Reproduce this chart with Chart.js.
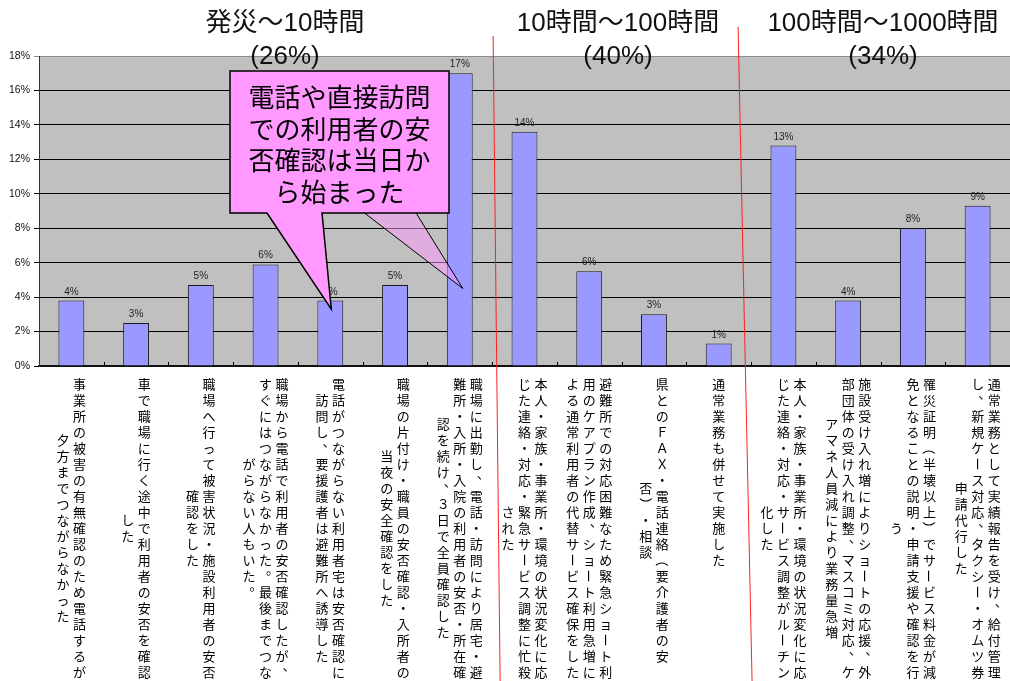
<!DOCTYPE html>
<html>
<head>
<meta charset="utf-8">
<script src="https://cdn.jsdelivr.net/npm/chart.js@4.4.0/dist/chart.umd.min.js"></script>
<style>
  html, body { margin: 0; padding: 0; background: #fff; }
  #wrap { width: 1010px; height: 681px; }
</style>
</head>
<body>
<div id="wrap"><canvas id="chart" width="1010" height="681"></canvas></div>
<script>
// category labels, one string per vertical column (right to left)
const categories = [
    ['事業所の被害の有無確認のため電話するが', '夕方までつながらなかった'],
    ['車で職場に行く途中で利用者の安否を確認', 'した'],
    ['職場へ行って被害状況・施設利用者の安否', '確認をした'],
    ['職場から電話で利用者の安否確認したが、', 'すぐにはつながらなかった。最後までつな', 'がらない人もいた。'],
    ['電話がつながらない利用者宅は安否確認に', '訪問し、要援護者は避難所へ誘導した'],
    ['職場の片付け・職員の安否確認・入所者の', '当夜の安全確認をした'],
    ['職場に出勤し、電話・訪問により居宅・避', '難所・入所・入院の利用者の安否・所在確', '認を続け、３日で全員確認した'],
    ['本人・家族・事業所・環境の状況変化に応', 'じた連絡・対応・緊急サービス調整に忙殺', 'された'],
    ['避難所での対応困難なため緊急ショート利', '用のケアプラン作成、ショート利用急増に', 'よる通常利用者の代替サービス確保をした'],
    ['県とのＦＡＸ・電話連絡（要介護者の安', '否）・相談'],
    ['通常業務も併せて実施した'],
    ['本人・家族・事業所・環境の状況変化に応', 'じた連絡・対応・サービス調整がルーチン', '化した'],
    ['施設受け入れ増によりショートの応援、外', '部団体の受け入れ調整、マスコミ対応、ケ', 'アマネ人員減により業務量急増'],
    ['罹災証明（半壊以上）でサービス料金が減', '免となることの説明・申請支援や確認を行', 'う'],
    ['通常業務として実績報告を受け、給付管理', 'し、新規ケース対応、タクシー・オムツ券', '申請代行した']
];
const shares = [3.8, 2.5, 4.7, 5.9, 3.8, 4.7, 17.0, 13.6, 5.5, 3.0, 1.3, 12.8, 3.8, 8.0, 9.3];
const yMax = 18;
const yStep = 2;

const phaseTitles = ['発災～10時間', '10時間～100時間', '100時間～1000時間'];
const phaseShares = ['(26%)', '(40%)', '(34%)'];
const calloutLines = ['電話や直接訪問', 'での利用者の安', '否確認は当日か', 'ら始まった'];

const CJK = '"Noto Sans CJK JP", sans-serif';
const LAT = '"Liberation Sans", "Noto Sans CJK JP", sans-serif';

function drawColumn(ctx, text, x, yTop, pitch) {
    [...text].forEach(function (ch, k) {
        const y = yTop + pitch * (k + 0.5);
        if ('ー（）'.includes(ch)) {
            ctx.save();
            ctx.translate(x, y);
            ctx.rotate(Math.PI / 2);
            ctx.fillText(ch, 0, 0);
            ctx.restore();
        } else if ('、。'.includes(ch)) {
            ctx.fillText(ch, x + 7, y - 7);
        } else {
            ctx.fillText(ch, x, y);
        }
    });
}

const decor = {
    id: 'decor',
    beforeDraw(chart) {
        const { ctx, chartArea: a } = chart;
        ctx.save();
        ctx.fillStyle = '#c0c0c0';
        ctx.fillRect(a.left, a.top, a.right - a.left, a.bottom - a.top);
        ctx.restore();
    },
    afterDatasetsDraw(chart) {
        const { ctx, chartArea: a } = chart;
        const xs = chart.scales.x;
        const meta = chart.getDatasetMeta(0);
        ctx.save();
        // value labels
        ctx.font = '10px ' + LAT;
        ctx.fillStyle = '#222';
        ctx.textAlign = 'center';
        ctx.textBaseline = 'alphabetic';
        meta.data.forEach(function (bar, i) {
            ctx.fillText(Math.round(shares[i]) + '%', bar.x, bar.y - 6);
        });
        // small inner ticks between categories
        ctx.strokeStyle = '#000';
        ctx.lineWidth = 1;
        for (let i = 1; i < categories.length; i++) {
            const bx = Math.round((xs.getPixelForValue(i - 1) + xs.getPixelForValue(i)) / 2) + 0.5;
            ctx.beginPath();
            ctx.moveTo(bx, a.bottom);
            ctx.lineTo(bx, a.bottom - 4);
            ctx.stroke();
        }
        // vertical category labels: block top-aligned, columns centred in the block
        ctx.font = '13px ' + CJK;
        ctx.fillStyle = '#000';
        ctx.textBaseline = 'middle';
        const pitch = 16, colGap = 16.5, top = a.bottom + 10;
        categories.forEach(function (cols, i) {
            const cx = xs.getPixelForValue(i);
            const n = cols.length;
            const longest = Math.max.apply(null, cols.map(function (c) { return [...c].length; }));
            const midY = top + longest * pitch / 2;
            cols.forEach(function (col, j) {
                const x = cx + ((n - 1) / 2 - j) * colGap;
                const len = [...col].length;
                drawColumn(ctx, col, x, midY - len * pitch / 2, pitch);
            });
        });
        ctx.restore();
    },
    afterDraw(chart) {
        const { ctx } = chart;
        const xs = chart.scales.x, ys = chart.scales.y;
        ctx.save();
        // phase headings
        ctx.fillStyle = '#111';
        ctx.textAlign = 'center';
        ctx.textBaseline = 'middle';
        ctx.font = '26px ' + LAT;
        const hx = [285, 618, 883];
        phaseTitles.forEach(function (t, i) {
            ctx.fillText(t, hx[i], 24);
            ctx.fillText(phaseShares[i], hx[i], 57);
        });

        // callout
        const box = { l: 230, t: 71, r: 449, b: 213 };
        const tip1 = { x: xs.getPixelForValue(4) + 1, y: ys.getPixelForValue(3.3) };
        const tip2 = { x: xs.getPixelForValue(6) + 3, y: ys.getPixelForValue(4.5) };
        ctx.fillStyle = 'rgba(255, 153, 255, 0.5)';
        ctx.strokeStyle = '#000';
        ctx.lineWidth = 1;
        ctx.beginPath();
        ctx.moveTo(358, box.b - 5);
        ctx.lineTo(tip2.x, tip2.y);
        ctx.lineTo(413, box.b - 5);
        ctx.closePath();
        ctx.fill();
        ctx.beginPath();
        ctx.moveTo(358, box.b - 5);
        ctx.lineTo(tip2.x, tip2.y);
        ctx.lineTo(413, box.b - 5);
        ctx.stroke();

        ctx.fillStyle = '#ff99ff';
        ctx.lineWidth = 1.5;
        ctx.beginPath();
        ctx.moveTo(box.l, box.t);
        ctx.lineTo(box.r, box.t);
        ctx.lineTo(box.r, box.b);
        ctx.lineTo(322, box.b);
        ctx.lineTo(tip1.x, tip1.y);
        ctx.lineTo(267, box.b);
        ctx.lineTo(box.l, box.b);
        ctx.closePath();
        ctx.fill();
        ctx.stroke();

        ctx.fillStyle = '#000';
        ctx.font = '26px ' + CJK;
        calloutLines.forEach(function (t, i) {
            ctx.fillText(t, (box.l + box.r) / 2, 97 + i * 31.7);
        });

        // red phase separators
        ctx.strokeStyle = '#ff2020';
        ctx.lineWidth = 1;
        const b1 = (xs.getPixelForValue(6) + xs.getPixelForValue(7)) / 2;
        const b2 = (xs.getPixelForValue(10) + xs.getPixelForValue(11)) / 2;
        ctx.beginPath();
        ctx.moveTo(b1 + 1, 36);
        ctx.lineTo(b1 + 8, 681);
        ctx.moveTo(b2 - 13, 27);
        ctx.lineTo(b2 + 1, 681);
        ctx.stroke();
        ctx.restore();
    }
};

new Chart(document.getElementById('chart').getContext('2d'), {
    type: 'bar',
    data: {
        labels: categories,
        datasets: [{
            data: shares,
            backgroundColor: '#9999ff',
            borderColor: '#1a1a1a',
            borderWidth: 1,
            barPercentage: 0.8,
            categoryPercentage: 0.5
        }]
    },
    options: {
        responsive: false,
        animation: false,
        layout: { padding: { top: 56, right: 0, left: 0, bottom: 0 } },
        plugins: {
            legend: { display: false },
            tooltip: { enabled: false }
        },
        scales: {
            x: {
                grid: { display: false },
                border: { color: '#111', width: 2 },
                ticks: { display: false },
                afterFit(scale) { scale.height = 315; }
            },
            y: {
                min: 0,
                max: yMax,
                ticks: {
                    stepSize: yStep,
                    padding: 4,
                    color: '#111',
                    font: { family: 'Liberation Sans', size: 10.5 },
                    callback: function (v) { return v + '%'; }
                },
                grid: {
                    color: function (c) { return c.tick && c.tick.value === yMax ? '#8c8c8c' : '#000'; },
                    lineWidth: 1,
                    tickLength: 5
                },
                border: { color: '#333', width: 1 },
                afterFit(scale) { scale.width = 39; }
            }
        }
    },
    plugins: [decor]
});
</script>
</body>
</html>
